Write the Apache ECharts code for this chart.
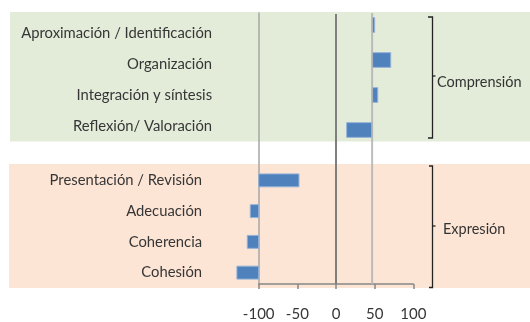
<!DOCTYPE html>
<html>
<head>
<meta charset="utf-8">
<script src="https://cdn.jsdelivr.net/npm/echarts@6/dist/echarts.min.js"></script>
<style>
  html, body { margin: 0; padding: 0; background: #fff; }
  #chart { width: 530px; height: 322px; }
</style>
</head>
<body>
<div id="chart"></div>
<script>
  // categories
  const comprCats = ['Aproximación / Identificación', 'Organización', 'Integración y síntesis', 'Reflexión/ Valoración'];
  const exprCats = ['Presentación / Revisión', 'Adecuación', 'Coherencia', 'Cohesión'];
  // bars start at a base value and end at the value
  const comprBase = 46.7;
  const comprValues = [50, 70.8, 54, 13.8];
  const exprBase = -100;
  const exprValues = [-47.9, -110.9, -114.8, -128.2];
  // reference lines
  const zeroLine = 0;
  const meanLine = 46.7;
  // x axis ticks
  const tickMin = -100, tickMax = 100, tickStep = 50;
  const barMin = -150;

  const textColor = '#363636';
  const font = 'Lato, "Open Sans", sans-serif';

  function renderBar (params, api) {
    const a = api.coord([api.value(0), api.value(2)]);
    const b = api.coord([api.value(1), api.value(2)]);
    const h = api.size([0, 1])[1] * 0.42;
    return {
      type: 'rect',
      shape: { x: Math.min(a[0], b[0]), y: a[1] - h / 2, width: Math.abs(b[0] - a[0]), height: h },
      style: { fill: '#4f81bd', stroke: '#95b3d7', lineWidth: 1 }
    };
  }

  const chart = echarts.init(document.getElementById('chart'));
  chart.setOption({
    animation: false,
    graphic: [
      { type: 'rect', z: -10, shape: { x: 10, y: 12, width: 520, height: 129.5 }, style: { fill: '#e3ebd9' } },
      { type: 'rect', z: -10, shape: { x: 9, y: 164, width: 521, height: 124 }, style: { fill: '#fde5d5' } },
      // brackets
      { type: 'polyline', shape: { points: [[428, 17], [432.5, 17], [432.5, 138], [428, 138]] }, style: { stroke: '#222', lineWidth: 1.3, fill: null } },
      { type: 'line', shape: { x1: 432.5, y1: 76, x2: 435.5, y2: 76 }, style: { stroke: '#222', lineWidth: 1.3 } },
      { type: 'polyline', shape: { points: [[429, 166], [432.5, 166], [432.5, 287.5], [429, 287.5]] }, style: { stroke: '#222', lineWidth: 1.3, fill: null } },
      { type: 'line', shape: { x1: 432.5, y1: 226, x2: 435.5, y2: 226 }, style: { stroke: '#222', lineWidth: 1.3 } },
      { type: 'text', x: 437, y: 82, style: { text: 'Comprensión', font: '14.5px ' + font, fill: '#333', verticalAlign: 'middle' } },
      { type: 'text', x: 443, y: 229, style: { text: 'Expresión', font: '14.5px ' + font, fill: '#333', verticalAlign: 'middle' } }
    ],
    grid: [
      { left: 220.05, right: 116.7, top: 7.5, height: 140 },
      { left: 220.05, right: 116.7, top: 17.5, height: 124 },
      { left: 220.05, right: 116.7, top: 165, height: 123 },
      { left: 258.7, right: 116.7, top: 13, height: 274 }
    ],
    xAxis: [
      { gridIndex: 0, type: 'value', min: barMin, max: tickMax, show: false },
      { gridIndex: 1, type: 'value', min: barMin, max: tickMax, show: false },
      { gridIndex: 2, type: 'value', min: barMin, max: tickMax, show: false },
      {
        gridIndex: 3, type: 'value', min: tickMin, max: tickMax, interval: tickStep,
        axisLine: { show: true, onZero: false, lineStyle: { color: '#878787', width: 1.5 } },
        axisTick: { show: true, length: 5, lineStyle: { color: '#878787', width: 1.5 } },
        splitLine: { show: false },
        axisLabel: { color: textColor, fontSize: 15, fontFamily: font, margin: 23 }
      }
    ],
    yAxis: [
      { gridIndex: 0, type: 'category', data: comprCats, inverse: true, show: false },
      {
        gridIndex: 1, type: 'category', data: comprCats, inverse: true,
        axisLine: { show: false }, axisTick: { show: false },
        axisLabel: { color: textColor, fontSize: 14.8, fontFamily: font, margin: 8 }
      },
      {
        gridIndex: 2, type: 'category', data: exprCats, inverse: true,
        axisLine: { show: false }, axisTick: { show: false },
        axisLabel: { color: textColor, fontSize: 14.8, fontFamily: font, margin: 18 }
      },
      {
        gridIndex: 3, type: 'value', min: 0, max: 1,
        axisLine: { show: true, onZero: false, lineStyle: { color: '#a6a6a6', width: 1.5 } },
        axisTick: { show: false }, axisLabel: { show: false }, splitLine: { show: false }
      }
    ],
    series: [
      {
        type: 'custom', xAxisIndex: 0, yAxisIndex: 0, z: 2,
        renderItem: renderBar, encode: { x: [0, 1], y: 2 },
        data: comprValues.map((v, i) => [comprBase, v, i])
      },
      {
        type: 'custom', xAxisIndex: 2, yAxisIndex: 2, z: 2,
        renderItem: renderBar, encode: { x: [0, 1], y: 2 },
        data: exprValues.map((v, i) => [exprBase, v, i])
      },
      {
        type: 'line', xAxisIndex: 3, yAxisIndex: 3, z: 3, symbol: 'none',
        lineStyle: { color: '#7f7f7f', width: 2 },
        data: [[zeroLine, 0], [zeroLine, 0.996]]
      },
      {
        type: 'line', xAxisIndex: 3, yAxisIndex: 3, z: 3, symbol: 'none',
        lineStyle: { color: '#b3b3b3', width: 2, opacity: 0.85 },
        data: [[meanLine, 0], [meanLine, 1]]
      }
    ]
  });
</script>
</body>
</html>
